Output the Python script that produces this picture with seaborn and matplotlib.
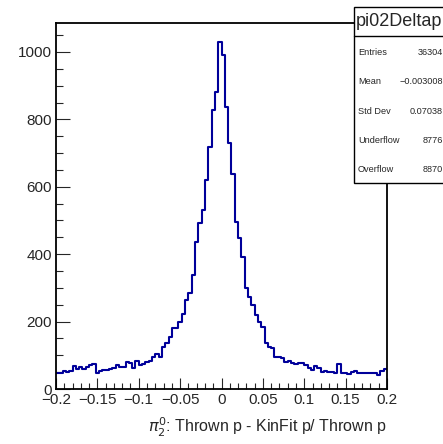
import numpy as np
import pandas as pd
import matplotlib
matplotlib.use("Agg")
import matplotlib.pyplot as plt
from matplotlib.patches import Rectangle
from matplotlib.lines import Line2D
from matplotlib.ticker import FixedLocator, MultipleLocator
import seaborn as sns

# histogram pi02Deltap: 100 bins between -0.2 and 0.2
x_min, x_max, n_bins = -0.2, 0.2, 100
counts = [
    48, 48, 52, 49, 52, 68, 58, 66, 60, 66,
    72, 74, 46, 52, 55, 57, 58, 62, 70, 66,
    66, 80, 76, 62, 82, 72, 75, 79, 82, 95,
    105, 96, 125, 136, 153, 180, 182, 200, 222, 264,
    285, 338, 436, 493, 531, 620, 718, 828, 881, 1031,
    991, 837, 730, 638, 496, 448, 392, 300, 273, 249,
    220, 200, 185, 137, 126, 121, 96, 95, 92, 81,
    83, 78, 74, 76, 78, 71, 61, 56, 68, 61,
    50, 54, 51, 51, 48, 75, 46, 48, 45, 51,
    54, 48, 46, 46, 46, 46, 46, 43, 54, 58,
]

hist_name = "pi02Deltap"
stat_labels = ["Entries", "Mean", "Std Dev", "Underflow", "Overflow"]
stat_values = ["36304", "\u22120.003008", "0.07038", "8776", "8870"]

x_ticks = [-0.2, -0.15, -0.1, -0.05, 0, 0.05, 0.1, 0.15, 0.2]
x_ticklabels = ["\u22120.2", "\u22120.15", "\u22120.1", "\u22120.05", "0",
                "0.05", "0.1", "0.15", "0.2"]
y_ticks = [0, 200, 400, 600, 800, 1000]
y_ticklabels = ["0", "200", "400", "600", "800", "1000"]
x_title = r"$\pi^0_2$: Thrown p - KinFit p/ Thrown p"

sns.set_style("ticks")
plt.rcParams["font.family"] = ["Liberation Sans", "DejaVu Sans"]
plt.rcParams["mathtext.fontset"] = "dejavusans"

W, H = 443, 444
fig = plt.figure(figsize=(W / 100, H / 100), dpi=100)

# frame in pixel units of the canvas
fl, fr, ft, fb = 56, 387, 23, 389
ax = fig.add_axes([fl / W, 1 - fb / H, (fr - fl) / W, (fb - ft) / H])

edges = np.linspace(x_min, x_max, n_bins + 1)
df = pd.DataFrame({"x": 0.5 * (edges[:-1] + edges[1:]), "n": counts})
sns.histplot(data=df, x="x", weights="n", bins=n_bins, binrange=(x_min, x_max),
             element="step", fill=False, color="#00009A", linewidth=1.5, ax=ax)

ax.set_xlim(x_min, x_max)
ax.set_ylim(0, 1086)
ax.set_ylabel("")
ax.set_xlabel(x_title, fontsize=11.5, loc="right", labelpad=6)

ax.xaxis.set_major_locator(FixedLocator(x_ticks))
ax.set_xticklabels(x_ticklabels)
ax.xaxis.set_minor_locator(MultipleLocator(0.01))
ax.yaxis.set_major_locator(FixedLocator(y_ticks))
ax.set_yticklabels(y_ticklabels)
ax.yaxis.set_minor_locator(MultipleLocator(50))

ax.tick_params(axis="x", which="major", direction="in", length=8, width=0.8,
               labelsize=11, pad=3, top=False)
ax.tick_params(axis="x", which="minor", direction="in", length=4, width=0.8, top=False)
ax.tick_params(axis="y", which="major", direction="in", length=10, width=0.8,
               labelsize=11, pad=3, right=False)
ax.tick_params(axis="y", which="minor", direction="in", length=5, width=0.8, right=False)
for s in ax.spines.values():
    s.set_linewidth(1.3)
    s.set_color("black")

# statistics box (ROOT style)
bl, br, bt, bb = 354, 444, 7, 183
row_h = (bb - bt) / 6
fig.patches.append(Rectangle((bl / W, 1 - bb / H), (br - bl) / W, (bb - bt) / H,
                             transform=fig.transFigure, facecolor="white",
                             edgecolor="black", linewidth=1.0, zorder=10))
fig.lines.append(Line2D([bl / W, br / W], [1 - (bt + row_h) / H] * 2,
                        transform=fig.transFigure, color="black", linewidth=1.0,
                        zorder=11))
fig.text((bl + 2) / W, 1 - (bt + row_h / 2) / H, hist_name, fontsize=13,
         ha="left", va="center", zorder=12)
for i, (lab, val) in enumerate(zip(stat_labels, stat_values)):
    ry = bt + row_h * (i + 1.5) + 1.5
    fig.text((bl + 4) / W, 1 - ry / H, lab, fontsize=6.6, ha="left", va="center", zorder=12)
    fig.text(443 / W, 1 - ry / H, val, fontsize=6.6, ha="right", va="center", zorder=12)

fig.savefig("out.png", dpi=100)
